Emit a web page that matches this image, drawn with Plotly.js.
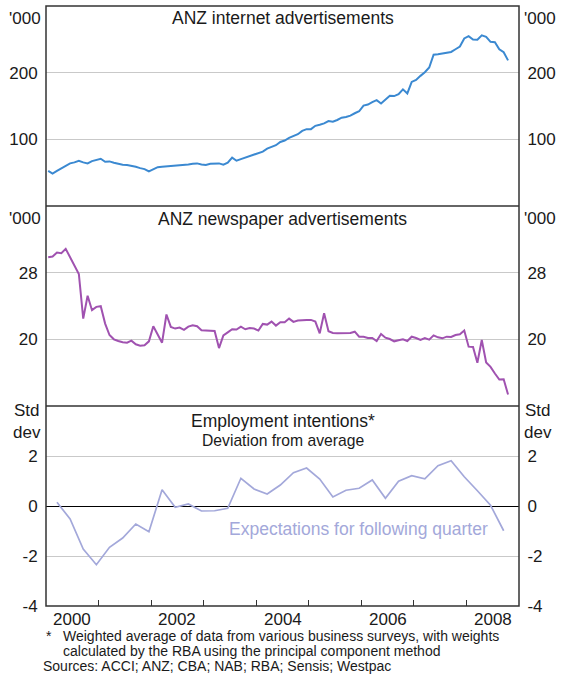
<!DOCTYPE html>
<html>
<head>
<meta charset="utf-8">
<script src="https://cdn.plot.ly/plotly-3.0.1.min.js"></script>
<style>html,body{margin:0;padding:0;background:#fff;}#chart{width:564px;height:675px;}</style>
</head>
<body>
<div id="chart"></div>
<script>
// ---- Data (monthly Jan 2000 - Oct 2008; quarterly Mar 2000 - Sep 2008) ----
const startYear = 2000;
const internetAds = [52.8, 48.7, 52.8, 56.3, 60.3, 63.9, 65.4, 67.9, 65.4, 63.9,
  67.4, 69.4, 70.9, 66.4, 66.9, 64.9, 62.9, 61.9, 61.4, 60.3,
  58.8, 56.8, 55.3, 51.8, 54.8, 58.3, 58.8, 59.3, 59.8, 60.3,
  60.8, 61.4, 62.4, 63.4, 63.9, 62.4, 61.4, 63.4, 63.9, 63.9,
  61.9, 64.9, 72.5, 67.9, 70.4, 72.5, 75, 77, 79, 81.6,
  86.1, 88.1, 91.2, 96, 98.2, 102.1, 105.2, 107.7, 112.7, 115.3,
  115.3, 120.3, 121.9, 123.9, 127.4, 126.4, 129, 132.5, 133.5, 135.6,
  139.1, 142.1, 150.7, 152.2, 155.8, 158.8, 153.8, 159.8, 165.4, 164.9,
  167.9, 175, 168.9, 186.1, 189.1, 195.2, 200.7, 207.8, 227, 227.5,
  228.5, 229.5, 231.1, 235.1, 239.2, 251.3, 254.8, 249.8, 249.3, 255.9,
  253.8, 246.3, 245.8, 235.1, 230.6, 218.4];
const newspaperAds = [29.85, 29.93, 30.41, 30.33, 30.86, 29.85, 28.89, 27.84, 22.49, 25.23,
  23.5, 23.9, 23.98, 21.89, 20.52, 20, 19.8, 19.64, 19.6, 19.84,
  19.4, 19.24, 19.28, 19.76, 21.57, 20.6, 19.6, 22.98, 21.49, 21.29,
  21.41, 21.13, 21.53, 21.69, 21.57, 21.09, 21.05, 21.01, 21.01, 18.95,
  20.48, 20.84, 21.21, 21.17, 21.53, 21.21, 21.37, 21.29, 21.05, 21.85,
  21.77, 22.13, 21.65, 22.05,
  22.05, 22.49, 22.09, 22.25, 22.33, 22.33, 22.33, 22.13, 20.72, 23.14,
  20.97, 20.76, 20.72, 20.72, 20.8, 20.76, 20.92, 20.32, 20.32, 20.16,
  20.16, 19.8, 20.64, 20.2, 20.04, 19.76, 19.88, 20, 19.8, 20.32,
  20.16, 19.92, 20.16, 19.96, 20.48, 20.24, 20.12, 20.32, 20.28, 20.52,
  20.6, 21.05, 19.12, 19.08, 17.19, 19.92, 17.23, 16.7, 15.9, 15.17,
  15.21, 13.37];
const employmentIntentions = [0.15, -0.52, -1.72, -2.35, -1.65, -1.28, -0.72, -1.03, 0.65, -0.05,
  0.08, -0.2, -0.19, -0.09, 1.11, 0.68, 0.48, 0.84, 1.33, 1.52,
  1.08, 0.36, 0.63, 0.71, 1.04, 0.31, 0.99, 1.21, 1.09, 1.61,
  1.81, 1.17, 0.61, 0.03, -0.99];
const yearLabels = ['2000', '2002', '2004', '2006', '2008'];
const yearLabelPos = [2000.5, 2002.5, 2004.5, 2006.5, 2008.5];
const yearTicks = [2001, 2002, 2003, 2004, 2005, 2006, 2007, 2008];
const internetTicks = [100, 200];
const newspaperTicks = [20, 28];
const employTicks = [-4, -2, 0, 2];
const employTickText = ['-4', '-2', '0', '2'];

// x positions: mid-month; quarterly points at the last month of each quarter
const xMonthly = internetAds.map((_, i) => startYear + (i + 0.5) / 12);
const xQuarterly = employmentIntentions.map((_, i) => startYear + (2.5 / 12) + i * 0.25);

const FONT = '"Liberation Sans", Arial, sans-serif';
const TXT = '#1a1a1a';

const traces = [
  {x: xMonthly, y: internetAds, type: 'scatter', mode: 'lines', xaxis: 'x', yaxis: 'y',
   line: {color: '#3b89d1', width: 2}, hoverinfo: 'skip', showlegend: false},
  {x: xMonthly, y: newspaperAds, type: 'scatter', mode: 'lines', xaxis: 'x', yaxis: 'y2',
   line: {color: '#a052b0', width: 2}, hoverinfo: 'skip', showlegend: false},
  {x: xQuarterly, y: employmentIntentions, type: 'scatter', mode: 'lines', xaxis: 'x', yaxis: 'y3',
   line: {color: '#a3a8da', width: 1.7}, hoverinfo: 'skip', showlegend: false},
  // transparent copies that activate the right-hand axes
  {x: xMonthly, y: internetAds, type: 'scatter', mode: 'lines', xaxis: 'x', yaxis: 'y4',
   opacity: 0, line: {width: 0}, hoverinfo: 'skip', showlegend: false},
  {x: xMonthly, y: newspaperAds, type: 'scatter', mode: 'lines', xaxis: 'x', yaxis: 'y5',
   opacity: 0, line: {width: 0}, hoverinfo: 'skip', showlegend: false},
  {x: xQuarterly, y: employmentIntentions, type: 'scatter', mode: 'lines', xaxis: 'x', yaxis: 'y6',
   opacity: 0, line: {width: 0}, hoverinfo: 'skip', showlegend: false}
];

function leftAxis(domain, range, vals, text, extra) {
  return Object.assign({
    domain: domain, range: range, anchor: 'x', tickmode: 'array', tickvals: vals,
    ticktext: text || vals.map(String), showgrid: true, gridcolor: '#c9c9c9', gridwidth: 1,
    zeroline: false, showline: false, ticks: 'outside', ticklen: 4, tickcolor: 'rgba(0,0,0,0)',
    tickfont: {family: FONT, size: 17, color: TXT}, fixedrange: true
  }, extra || {});
}
function rightAxis(over, domain, range, vals, text) {
  return {
    overlaying: over, side: 'right', domain: domain, range: range, anchor: 'x', tickmode: 'array', tickvals: vals,
    ticktext: text || vals.map(String), showgrid: false, zeroline: false, showline: false,
    ticks: 'outside', ticklen: 4, tickcolor: 'rgba(0,0,0,0)',
    tickfont: {family: FONT, size: 17, color: TXT}, fixedrange: true
  };
}

const ann = [];
function addText(text, x, y, xref, yref, size, opts) {
  ann.push(Object.assign({text: text, x: x, y: y, xref: xref, yref: yref, showarrow: false,
    font: {family: FONT, size: size, color: TXT}}, opts || {}));
}
// panel titles
addText('ANZ internet advertisements', 0.5, 0.94, 'paper', 'y domain', 17.5, {yanchor: 'middle'});
addText('ANZ newspaper advertisements', 0.5, 0.935, 'paper', 'y2 domain', 17.5, {yanchor: 'middle'});
addText('Employment intentions*', 0.5, 0.925, 'paper', 'y3 domain', 17.5, {yanchor: 'middle'});
addText('Deviation from average', 0.5, 0.83, 'paper', 'y3 domain', 15.7, {yanchor: 'middle'});
// units
[['y domain', "'000"], ['y2 domain', "'000"]].forEach(function (u) {
  addText(u[1], 0, 0.94, 'paper', u[0], 17, {xanchor: 'right', xshift: -3, yanchor: 'middle'});
  addText(u[1], 1, 0.94, 'paper', u[0], 17, {xanchor: 'left', xshift: 3, yanchor: 'middle'});
});
addText('Std<br>dev', 0, 1.035, 'paper', 'y3 domain', 17, {xanchor: 'right', xshift: -3, yanchor: 'top', align: 'center'});
addText('Std<br>dev', 1, 1.035, 'paper', 'y3 domain', 17, {xanchor: 'left', xshift: 3, yanchor: 'top', align: 'center'});
// x-axis year labels, centred on each labelled year
yearLabels.forEach(function (t, i) {
  addText(t, yearLabelPos[i], -0.0217, 'x', 'paper', 17, {yanchor: 'middle'});
});
// series label
ann.push({text: 'Expectations for following quarter', x: 2005.95, y: -0.9, xref: 'x', yref: 'y3',
  showarrow: false, font: {family: FONT, size: 17.5, color: '#a3a8da'}});
// footnotes
const fn = {xanchor: 'left', yanchor: 'middle', borderpad: 0};
addText('*', -0.003, -0.0492, 'paper', 'paper', 14, fn);
addText('Weighted average of data from various business surveys, with weights', 0.033, -0.0492, 'paper', 'paper', 14, fn);
addText('calculated by the RBA using the principal component method', 0.033, -0.0745, 'paper', 'paper', 14, fn);
addText('Sources: ACCI; ANZ; CBA; NAB; RBA; Sensis; Westpac', -0.009, -0.0995, 'paper', 'paper', 14, fn);

const frameColor = '#333333';
const layout = {
  width: 564, height: 675,
  margin: {l: 46, r: 45, t: 6, b: 69, pad: 0},
  paper_bgcolor: '#ffffff', plot_bgcolor: '#ffffff',
  font: {family: FONT, color: TXT},
  showlegend: false,
  xaxis: {
    domain: [0, 1], range: [2000, 2009], anchor: 'y3', showgrid: false, zeroline: false, showline: false,
    tickmode: 'array', tickvals: yearTicks, ticktext: yearTicks.map(function () { return ''; }),
    ticks: 'inside', ticklen: 6, tickwidth: 1, tickcolor: frameColor, fixedrange: true
  },
  yaxis: leftAxis([2/3, 1], [0, 300], internetTicks),
  yaxis2: leftAxis([1/3, 2/3], [12, 36], newspaperTicks),
  yaxis3: leftAxis([0, 1/3], [-4, 4], employTicks, employTickText, {zeroline: true, zerolinecolor: '#000000', zerolinewidth: 1}),
  yaxis4: rightAxis('y', [2/3, 1], [0, 300], internetTicks),
  yaxis5: rightAxis('y2', [1/3, 2/3], [12, 36], newspaperTicks),
  yaxis6: rightAxis('y3', [0, 1/3], [-4, 4], employTicks, employTickText),
  shapes: [
    {type: 'rect', xref: 'paper', yref: 'paper', x0: 0, x1: 1, y0: 0, y1: 1, line: {color: frameColor, width: 1.5}},
    {type: 'line', xref: 'paper', yref: 'paper', x0: 0, x1: 1, y0: 1/3, y1: 1/3, line: {color: frameColor, width: 1.5}},
    {type: 'line', xref: 'paper', yref: 'paper', x0: 0, x1: 1, y0: 2/3, y1: 2/3, line: {color: frameColor, width: 1.5}}
  ],
  annotations: ann
};

Plotly.newPlot('chart', traces, layout, {staticPlot: true, displayModeBar: false});
</script>
</body>
</html>
